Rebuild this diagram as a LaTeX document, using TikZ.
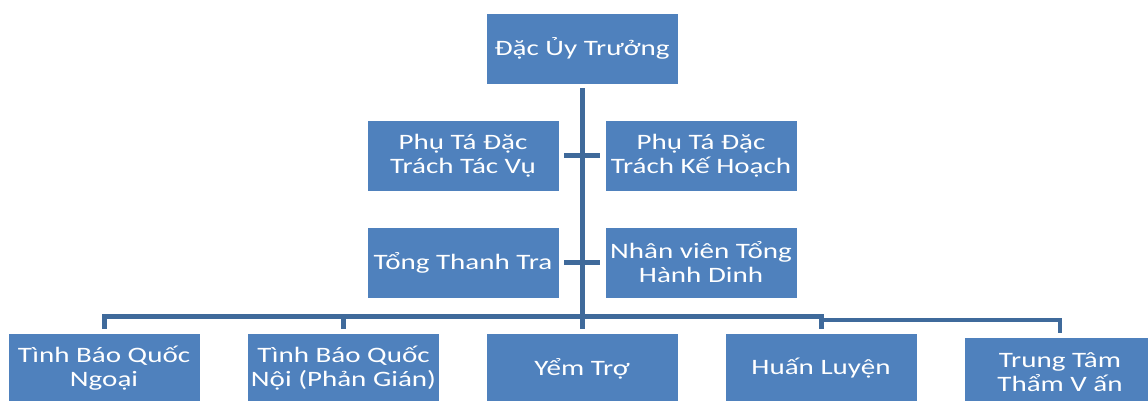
\documentclass[tikz,border=0pt]{standalone}
\usepackage{fontspec}
\newfontfamily\boxfont[FakeStretch=1.32]{Carlito}
\definecolor{boxblue}{HTML}{4F81BD}
\definecolor{lineblue}{HTML}{3F6A9B}
\begin{document}
\begin{tikzpicture}[x=1pt,y=-1pt,
  unit/.style={rectangle, fill=boxblue, draw=white, line width=0.6pt, minimum width=192pt, minimum height=71pt, inner sep=0pt, align=center, text=white, font=\boxfont\fontsize{22}{24}\selectfont},
  conn/.style={draw=lineblue, line width=5pt, line join=miter}]
\useasboundingbox (0,0) rectangle (1148,401);
\clip (0,0) rectangle (1148,401);
\node[unit] (top) at (582,48.5) {Đặc Ủy Trưởng};
\node[unit] (pl1) at (463,155.5) {Phụ Tá Đặc\\Trách Tác Vụ};
\node[unit] (pr1) at (701,155.5) {Phụ Tá Đặc\\Trách Kế Hoạch};
\node[unit] (pl2) at (463,262.5) {Tổng Thanh Tra};
\node[unit] (pr2) at (701,262.5) {Nhân viên Tổng\\Hành Dinh};
\node[unit] (b1) at (104,368.5) {Tình Báo Quốc\\Ngoại};
\node[unit] (b2) at (343.5,368.5) {Tình Báo Quốc\\Nội (Phản Gián)};
\node[unit] (b3) at (582,368.5) {Yểm Trợ};
\node[unit] (b4) at (821,368.5) {Huấn Luyện};
\node[unit] (b5) at (1060,372.5) {Trung Tâm\\Thẩm V ấn};
\coordinate (j) at (581,316.5);
\coordinate (k) at (821,320);
\draw[conn, shorten <=4pt, shorten >=4pt] (top.south) -- (b3.north);
\draw[conn, shorten <=5pt, shorten >=5pt] (pl1.east) -- (pr1.west);
\draw[conn, shorten <=5pt, shorten >=5pt] (pl2.east) -- (pr2.west);
\draw[conn, shorten >=4pt] (j) -| (b1.north);
\draw[conn, shorten >=4pt] (j) -| (b2.north);
\draw[conn, shorten >=4pt] (j) -| (b4.north);
\draw[conn, line width=4.5pt, shorten >=4pt] (k) -| (b5.north);
\end{tikzpicture}
\end{document}
